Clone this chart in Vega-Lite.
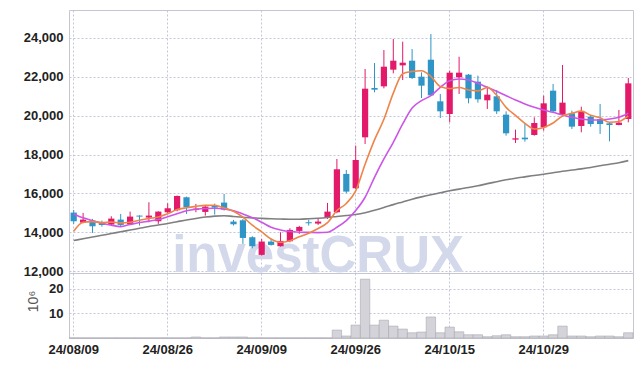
{
  "$schema": "https://vega.github.io/schema/vega-lite/v6.json",
  "padding": {"left": 22, "top": 9, "right": 5, "bottom": 5},
  "background": "white",
  "bounds": "flush",
  "datasets": {
    "d": [
      {"date": "24/08/09", "open": 15010, "high": 15147, "low": 14427, "close": 14564, "vol": 0.05, "ma5": 14049, "ma20": 14943, "ma60": 13569},
      {"date": "24/08/12", "open": 14495, "high": 14993, "low": 14461, "close": 14649, "vol": 0.05, "ma5": 14512, "ma20": 14740, "ma60": 13660},
      {"date": "24/08/13", "open": 14598, "high": 14684, "low": 13963, "close": 14306, "vol": 0.05, "ma5": 14547, "ma20": 14600, "ma60": 13750},
      {"date": "24/08/14", "open": 14478, "high": 14598, "low": 14289, "close": 14375, "vol": 0.05, "ma5": 14495, "ma20": 14460, "ma60": 13840},
      {"date": "24/08/16", "open": 14392, "high": 14821, "low": 14358, "close": 14701, "vol": 0.05, "ma5": 14519, "ma20": 14360, "ma60": 13930},
      {"date": "24/08/19", "open": 14649, "high": 14941, "low": 14306, "close": 14375, "vol": 0.05, "ma5": 14481, "ma20": 14290, "ma60": 14020},
      {"date": "24/08/20", "open": 14409, "high": 15061, "low": 14375, "close": 14804, "vol": 0.05, "ma5": 14512, "ma20": 14400, "ma60": 14110},
      {"date": "24/08/21", "open": 14855, "high": 14872, "low": 14341, "close": 14804, "vol": 0.05, "ma5": 14612, "ma20": 14500, "ma60": 14200},
      {"date": "24/08/22", "open": 14752, "high": 15541, "low": 14512, "close": 14855, "vol": 0.05, "ma5": 14708, "ma20": 14570, "ma60": 14290},
      {"date": "24/08/23", "open": 14564, "high": 15078, "low": 14427, "close": 15061, "vol": 0.05, "ma5": 14780, "ma20": 14650, "ma60": 14370},
      {"date": "24/08/26", "open": 15027, "high": 15490, "low": 14993, "close": 15233, "vol": 0.05, "ma5": 14951, "ma20": 14800, "ma60": 14450},
      {"date": "24/08/27", "open": 15130, "high": 15884, "low": 15078, "close": 15867, "vol": 0.05, "ma5": 15164, "ma20": 14950, "ma60": 14540},
      {"date": "24/08/28", "open": 15799, "high": 15833, "low": 14941, "close": 15284, "vol": 0.05, "ma5": 15260, "ma20": 15100, "ma60": 14630},
      {"date": "24/08/29", "open": 15147, "high": 15456, "low": 15027, "close": 15216, "vol": 0.4, "ma5": 15332, "ma20": 15180, "ma60": 14710},
      {"date": "24/08/30", "open": 15044, "high": 15404, "low": 14855, "close": 15318, "vol": 0.05, "ma5": 15384, "ma20": 15220, "ma60": 14780},
      {"date": "24/09/02", "open": 15370, "high": 15473, "low": 14907, "close": 15267, "vol": 0.05, "ma5": 15390, "ma20": 15230, "ma60": 14830},
      {"date": "24/09/03", "open": 15524, "high": 15970, "low": 15113, "close": 15164, "vol": 0.4, "ma5": 15250, "ma20": 15200, "ma60": 14850},
      {"date": "24/09/04", "open": 14547, "high": 14632, "low": 14341, "close": 14409, "vol": 0.4, "ma5": 15075, "ma20": 15100, "ma60": 14810},
      {"date": "24/09/05", "open": 14615, "high": 14684, "low": 13398, "close": 13706, "vol": 0.4, "ma5": 14773, "ma20": 14940, "ma60": 14770},
      {"date": "24/09/06", "open": 13741, "high": 13792, "low": 13175, "close": 13277, "vol": 0.05, "ma5": 14365, "ma20": 14750, "ma60": 14740},
      {"date": "24/09/09", "open": 12832, "high": 13655, "low": 12798, "close": 13518, "vol": 0.05, "ma5": 14015, "ma20": 14513, "ma60": 14710},
      {"date": "24/09/10", "open": 13518, "high": 13655, "low": 13312, "close": 13346, "vol": 0.05, "ma5": 13651, "ma20": 14255, "ma60": 14690},
      {"date": "24/09/11", "open": 13278, "high": 13998, "low": 13261, "close": 13552, "vol": 0.05, "ma5": 13480, "ma20": 14118, "ma60": 14680},
      {"date": "24/09/12", "open": 13535, "high": 14204, "low": 13484, "close": 14118, "vol": 0.05, "ma5": 13562, "ma20": 14033, "ma60": 14670},
      {"date": "24/09/13", "open": 14067, "high": 14324, "low": 13913, "close": 14273, "vol": 0.05, "ma5": 13761, "ma20": 14000, "ma60": 14670},
      {"date": "24/09/19", "open": 14513, "high": 14650, "low": 14341, "close": 14461, "vol": 0.05, "ma5": 13950, "ma20": 13990, "ma60": 14690},
      {"date": "24/09/20", "open": 14444, "high": 14701, "low": 14375, "close": 14547, "vol": 0.05, "ma5": 14190, "ma20": 13981, "ma60": 14720},
      {"date": "24/09/23", "open": 14736, "high": 15508, "low": 14684, "close": 15061, "vol": 0.05, "ma5": 14492, "ma20": 14000, "ma60": 14760},
      {"date": "24/09/24", "open": 15027, "high": 17771, "low": 14976, "close": 17240, "vol": 3.2, "ma5": 15116, "ma20": 14255, "ma60": 14810},
      {"date": "24/09/25", "open": 17000, "high": 17205, "low": 16005, "close": 16091, "vol": 0.8, "ma5": 15480, "ma20": 14599, "ma60": 14860},
      {"date": "24/09/26", "open": 16262, "high": 18457, "low": 16227, "close": 17719, "vol": 5.2, "ma5": 16132, "ma20": 15113, "ma60": 14910},
      {"date": "24/09/27", "open": 18886, "high": 22401, "low": 18543, "close": 21389, "vol": 23.8, "ma5": 17500, "ma20": 15799, "ma60": 15000},
      {"date": "24/09/30", "open": 21424, "high": 22710, "low": 21201, "close": 21338, "vol": 5.2, "ma5": 18755, "ma20": 16828, "ma60": 15130},
      {"date": "24/10/02", "open": 21510, "high": 23379, "low": 21407, "close": 22521, "vol": 7.2, "ma5": 19812, "ma20": 17771, "ma60": 15270},
      {"date": "24/10/04", "open": 22367, "high": 23945, "low": 22178, "close": 22830, "vol": 4.8, "ma5": 21159, "ma20": 18629, "ma60": 15420},
      {"date": "24/10/07", "open": 22590, "high": 23808, "low": 21835, "close": 22727, "vol": 3.6, "ma5": 22161, "ma20": 19572, "ma60": 15560},
      {"date": "24/10/08", "open": 22830, "high": 23430, "low": 21887, "close": 21938, "vol": 2.1, "ma5": 22271, "ma20": 20395, "ma60": 15700},
      {"date": "24/10/10", "open": 22007, "high": 22230, "low": 20909, "close": 21544, "vol": 2.4, "ma5": 22312, "ma20": 20772, "ma60": 15820},
      {"date": "24/10/11", "open": 22881, "high": 24202, "low": 21012, "close": 21046, "vol": 8.5, "ma5": 22017, "ma20": 21030, "ma60": 15930},
      {"date": "24/10/14", "open": 20738, "high": 21115, "low": 19880, "close": 20223, "vol": 2.1, "ma5": 21496, "ma20": 21459, "ma60": 16030},
      {"date": "24/10/15", "open": 20087, "high": 22316, "low": 19658, "close": 22213, "vol": 4.4, "ma5": 21393, "ma20": 21801, "ma60": 16130},
      {"date": "24/10/16", "open": 21973, "high": 23036, "low": 21116, "close": 22213, "vol": 2.5, "ma5": 21448, "ma20": 21887, "ma60": 16220},
      {"date": "24/10/17", "open": 22110, "high": 22145, "low": 20635, "close": 20893, "vol": 1.3, "ma5": 21318, "ma20": 21836, "ma60": 16300},
      {"date": "24/10/18", "open": 21750, "high": 22059, "low": 20670, "close": 20841, "vol": 1.3, "ma5": 21277, "ma20": 21664, "ma60": 16390},
      {"date": "24/10/21", "open": 20790, "high": 21493, "low": 20344, "close": 21081, "vol": 0.5, "ma5": 21448, "ma20": 21458, "ma60": 16500},
      {"date": "24/10/22", "open": 20996, "high": 21321, "low": 20087, "close": 20224, "vol": 0.9, "ma5": 21050, "ma20": 21253, "ma60": 16600},
      {"date": "24/10/23", "open": 20052, "high": 20224, "low": 18972, "close": 19092, "vol": 1.3, "ma5": 20426, "ma20": 21030, "ma60": 16700},
      {"date": "24/10/24", "open": 18766, "high": 19280, "low": 18595, "close": 18835, "vol": 0.5, "ma5": 20015, "ma20": 20807, "ma60": 16780},
      {"date": "24/10/25", "open": 18869, "high": 19572, "low": 18663, "close": 18783, "vol": 0.5, "ma5": 19603, "ma20": 20601, "ma60": 16850},
      {"date": "24/10/28", "open": 19006, "high": 19915, "low": 18972, "close": 19623, "vol": 0.8, "ma5": 19311, "ma20": 20430, "ma60": 16920},
      {"date": "24/10/29", "open": 19401, "high": 21030, "low": 19229, "close": 20635, "vol": 0.8, "ma5": 19394, "ma20": 20292, "ma60": 16980},
      {"date": "24/10/30", "open": 21287, "high": 21630, "low": 20172, "close": 20224, "vol": 1.3, "ma5": 19620, "ma20": 20172, "ma60": 17060},
      {"date": "24/10/31", "open": 20052, "high": 22608, "low": 19967, "close": 20670, "vol": 4.8, "ma5": 19987, "ma20": 20035, "ma60": 17140},
      {"date": "24/11/01", "open": 20121, "high": 20258, "low": 19315, "close": 19435, "vol": 0.8, "ma5": 20117, "ma20": 19915, "ma60": 17200},
      {"date": "24/11/04", "open": 19469, "high": 20464, "low": 19143, "close": 20207, "vol": 0.8, "ma5": 20234, "ma20": 19829, "ma60": 17260},
      {"date": "24/11/05", "open": 19949, "high": 20001, "low": 19435, "close": 19572, "vol": 0.5, "ma5": 20022, "ma20": 19778, "ma60": 17330},
      {"date": "24/11/06", "open": 19829, "high": 20601, "low": 19058, "close": 19572, "vol": 0.8, "ma5": 19891, "ma20": 19778, "ma60": 17420},
      {"date": "24/11/07", "open": 19606, "high": 19641, "low": 18680, "close": 19521, "vol": 0.8, "ma5": 19661, "ma20": 19829, "ma60": 17500},
      {"date": "24/11/08", "open": 19521, "high": 20292, "low": 19504, "close": 19641, "vol": 0.5, "ma5": 19703, "ma20": 19915, "ma60": 17580},
      {"date": "24/11/11", "open": 19829, "high": 21939, "low": 19658, "close": 21664, "vol": 2.1, "ma5": 19994, "ma20": 20121, "ma60": 17685}
    ]
  },
  "spacing": 0,
  "vconcat": [
    {
      "width": 564,
      "height": 263,
      "data": {"name": "d"},
      "encoding": {
        "x": {
          "field": "date", "type": "ordinal",
          "scale": {"type": "band", "paddingInner": 0, "paddingOuter": 0},
          "axis": {"title": null, "labels": false, "ticks": false, "domain": false, "grid": true, "bandPosition": 0.5,
                   "values": ["24/08/09", "24/08/26", "24/09/09", "24/09/26", "24/10/15", "24/10/29"]}
        },
        "y": {"field": "low", "type": "quantitative", "scale": {"domain": [11900, 25440], "nice": false, "zero": false},
              "axis": {"title": null, "values": [12000, 14000, 16000, 18000, 20000, 22000, 24000], "labelExpr": "format(datum.value, ',')", "grid": true}}
      },
      "layer": [
        {
          "transform": [{"filter": "datum.date == '24/09/20'"}],
          "mark": {"type": "text", "text": "investCRUX", "font": "Liberation Sans", "fontWeight": "bold", "fontSize": 51, "color": "#d3d8ea", "align": "center", "baseline": "alphabetic", "clip": true},
          "encoding": {
            "y": {"datum": 11960, "type": "quantitative"}
          }
        },
        {
          "mark": {"type": "rule", "strokeWidth": 1},
          "encoding": {
            "y": {"field": "low", "type": "quantitative"},
            "y2": {"field": "high"},
            "color": {"condition": {"test": "datum.close >= datum.open", "value": "#e3196a"}, "value": "#2f95c7"}
          }
        },
        {
          "mark": {"type": "bar", "width": {"band": 0.66}},
          "encoding": {
            "y": {"field": "open", "type": "quantitative"},
            "y2": {"field": "close"},
            "color": {"condition": {"test": "datum.close >= datum.open", "value": "#e3196a"}, "value": "#2f95c7"}
          }
        },
        {
          "mark": {"type": "line", "color": "#7f7f80", "strokeWidth": 1.6, "interpolate": "monotone"},
          "encoding": {"y": {"field": "ma60", "type": "quantitative"}}
        },
        {
          "mark": {"type": "line", "color": "#cc55e8", "strokeWidth": 1.6, "interpolate": "monotone"},
          "encoding": {"y": {"field": "ma20", "type": "quantitative"}}
        },
        {
          "mark": {"type": "line", "color": "#ef8448", "strokeWidth": 1.6, "interpolate": "monotone"},
          "encoding": {"y": {"field": "ma5", "type": "quantitative"}}
        }
      ]
    },
    {
      "width": 564,
      "height": 65,
      "data": {"name": "d"},
      "mark": {"type": "bar", "fill": "#d3d3d9", "stroke": "#a8a8b0", "strokeWidth": 0.6},
      "encoding": {
        "x": {
          "field": "date", "type": "ordinal",
          "scale": {"type": "band", "paddingInner": 0, "paddingOuter": 0},
          "axis": {"title": null, "labelAngle": 0, "ticks": false, "domain": false, "grid": true, "bandPosition": 0.5, "labelPadding": 5,
                   "values": ["24/08/09", "24/08/26", "24/09/09", "24/09/26", "24/10/15", "24/10/29"]}
        },
        "y": {
          "field": "vol", "type": "quantitative",
          "scale": {"domain": [0, 26.3], "nice": false},
          "axis": {"title": "10⁶", "values": [10, 20], "grid": true, "titleFont": "Liberation Sans", "titleFontWeight": "normal", "titleFontSize": 14, "titleColor": "#555555",
                   "titleAngle": -90, "titleX": -36, "titleY": 28, "titleAlign": "center", "titleBaseline": "middle"}
        }
      }
    }
  ],
  "config": {
    "view": {"stroke": "#c4c6d2"},
    "axis": {
      "labelFont": "Liberation Sans",
      "labelFontWeight": "bold",
      "labelFontSize": 13,
      "labelColor": "#222222",
      "labelPadding": 6,
      "gridColor": "#c3c6da",
      "gridDash": [2, 2],
      "gridWidth": 1,
      "ticks": false,
      "domain": false
    }
  }
}
